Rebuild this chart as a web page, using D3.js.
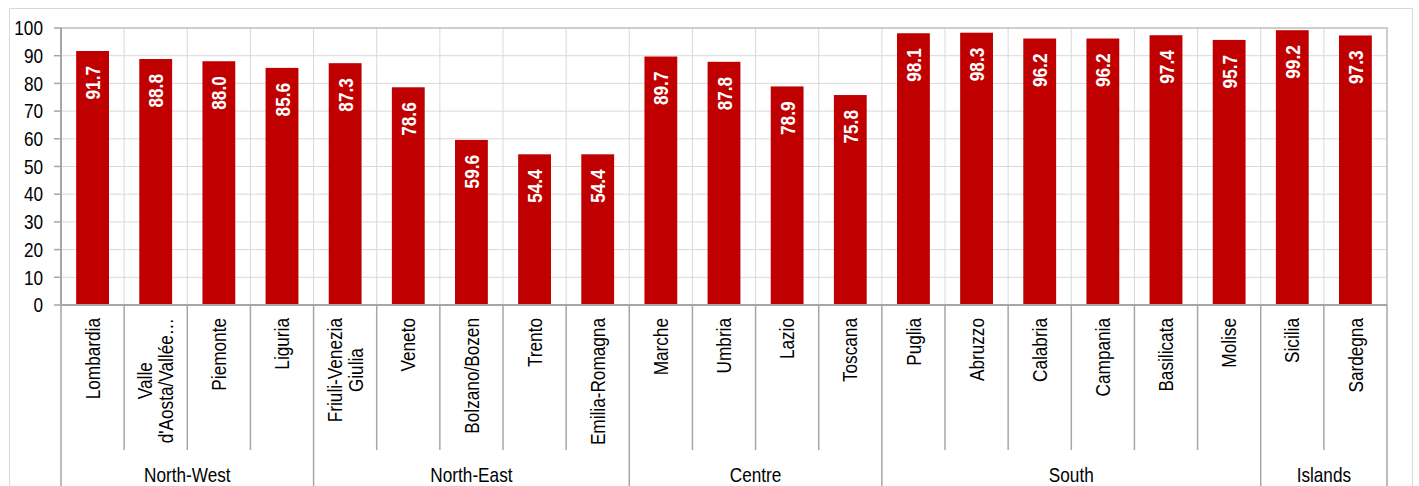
<!DOCTYPE html>
<html>
<head>
<meta charset="utf-8">
<script src="https://cdn.jsdelivr.net/npm/d3@7"></script>
<style>
  body { margin: 0; background: #fff; }
  text { font-family: "Liberation Sans", Arial, sans-serif; fill: #000; }
</style>
</head>
<body>
<script>
// regions, values and macro-area groups
var regions = ["Lombardia", "Valle d'Aosta/Vallée…", "Piemonte", "Liguria",
  "Friuli-Venezia Giulia", "Veneto", "Bolzano/Bozen", "Trento", "Emilia-Romagna",
  "Marche", "Umbria", "Lazio", "Toscana",
  "Puglia", "Abruzzo", "Calabria", "Campania", "Basilicata", "Molise",
  "Sicilia", "Sardegna"];
var regionLines = {
  "Valle d'Aosta/Vallée…": ["Valle", "d'Aosta/Vallée…"],
  "Friuli-Venezia Giulia": ["Friuli-Venezia", "Giulia"]
};
var values = [91.7, 88.8, 88.0, 85.6, 87.3, 78.6, 59.6, 54.4, 54.4,
  89.7, 87.8, 78.9, 75.8, 98.1, 98.3, 96.2, 96.2, 97.4, 95.7, 99.2, 97.3];
var groups = ["North-West", "North-East", "Centre", "South", "Islands"];
var groupSizes = [4, 5, 4, 6, 2];
var yTicks = [0, 10, 20, 30, 40, 50, 60, 70, 80, 90, 100];

var W = 1419, H = 486;
var mLeft = 61, mRight = 1387, mTop = 28, mBottom = 305;
var sx = 0.86; // narrow the font, the original is a condensed face

var svg = d3.select("body").append("svg")
    .attr("width", W)
    .attr("height", H);

// outer frame
svg.append("rect")
    .attr("x", 9.5).attr("y", 8.5)
    .attr("width", 1403).attr("height", 500)
    .style("fill", "none")
    .style("stroke", "#d9d9d9");

var x = d3.scaleBand()
    .domain(regions)
    .range([mLeft, mRight])
    .paddingInner(0).paddingOuter(0);

var y = d3.scaleLinear()
    .domain([0, 100])
    .range([mBottom, mTop]);

var step = x.step();
var barW = step * 0.52;

// horizontal gridlines
svg.append("g").selectAll("line")
    .data(yTicks.filter(function(d){ return d > 0 && d < 100; }))
    .enter().append("line")
    .attr("x1", mLeft).attr("x2", mRight)
    .attr("y1", function(d){ return y(d); })
    .attr("y2", function(d){ return y(d); })
    .style("stroke", "#d9d9d9")
    .style("stroke-width", 1);

// vertical gridlines at category boundaries
svg.append("g").selectAll("line")
    .data(regions.slice(1))
    .enter().append("line")
    .attr("x1", function(d){ return x(d); })
    .attr("x2", function(d){ return x(d); })
    .attr("y1", mTop).attr("y2", mBottom)
    .style("stroke", "#d9d9d9")
    .style("stroke-width", 1);

// plot border top / right
svg.append("path")
    .attr("d", "M" + mLeft + "," + y(100) + "H" + mRight + "V" + mBottom)
    .style("fill", "none")
    .style("stroke", "#bfbfbf")
    .style("stroke-width", 1.5);

// bars
svg.append("g").selectAll("rect")
    .data(values)
    .enter().append("rect")
    .attr("x", function(d, i){ return x(regions[i]) + (step - barW) / 2; })
    .attr("y", function(d){ return y(d); })
    .attr("width", barW)
    .attr("height", function(d){ return y(0) - y(d); })
    .style("fill", "#c00000");

// value labels inside the bars
svg.append("g").selectAll("text")
    .data(values)
    .enter().append("text")
    .attr("transform", function(d, i){
      return "translate(" + (x(regions[i]) + step / 2) + "," + (y(d) + 15) + ") rotate(-90) scale(0.82,1)";
    })
    .attr("dy", "0.36em")
    .style("text-anchor", "end")
    .style("font-size", "21px")
    .style("font-weight", "bold")
    .style("fill", "#fff")
    .text(function(d){ return d.toFixed(1); });

// y axis: ticks, line, labels
var yAxis = svg.append("g");
yAxis.selectAll("line.tick")
    .data(yTicks)
    .enter().append("line")
    .attr("class", "tick")
    .attr("x1", mLeft - 7).attr("x2", mLeft)
    .attr("y1", function(d){ return y(d); })
    .attr("y2", function(d){ return y(d); })
    .style("stroke", "#a6a6a6")
    .style("stroke-width", 1.5);
yAxis.append("line")
    .attr("x1", mLeft).attr("x2", mLeft)
    .attr("y1", mTop).attr("y2", mBottom)
    .style("stroke", "#a6a6a6")
    .style("stroke-width", 2);
yAxis.selectAll("text")
    .data(yTicks)
    .enter().append("text")
    .attr("transform", function(d){ return "translate(43," + y(d) + ") scale(" + sx + ",1)"; })
    .attr("dy", "0.36em")
    .style("text-anchor", "end")
    .style("font-size", "20px")
    .text(function(d){ return d; });

// x axis line
svg.append("line")
    .attr("x1", mLeft).attr("x2", mRight)
    .attr("y1", mBottom).attr("y2", mBottom)
    .style("stroke", "#a6a6a6")
    .style("stroke-width", 2);

// group boundaries
var groupStart = [];
var acc = 0;
groupSizes.forEach(function(n){ groupStart.push(acc); acc += n; });
var groupEdges = groupStart.concat([regions.length]);
function edgeX(i){ return i < regions.length ? x(regions[i]) : mRight; }

// category tick lines (inside groups)
svg.append("g").selectAll("line")
    .data(d3.range(1, regions.length).filter(function(i){ return groupStart.indexOf(i) < 0; }))
    .enter().append("line")
    .attr("x1", function(i){ return edgeX(i); })
    .attr("x2", function(i){ return edgeX(i); })
    .attr("y1", mBottom).attr("y2", 450)
    .style("stroke", "#a6a6a6")
    .style("stroke-width", 1.5);

// group separator lines
svg.append("g").selectAll("line")
    .data(groupEdges)
    .enter().append("line")
    .attr("x1", function(i){ return edgeX(i); })
    .attr("x2", function(i){ return edgeX(i); })
    .attr("y1", mBottom).attr("y2", H)
    .style("stroke", "#a6a6a6")
    .style("stroke-width", 1.5);

// category labels, rotated
var lh = 21;
var catLabels = svg.append("g").selectAll("text")
    .data(regions)
    .enter().append("text")
    .style("font-size", "20px");

catLabels.each(function(d){
  var lines = regionLines[d] || [d];
  var t = d3.select(this);
  lines.forEach(function(s, k){
    t.append("tspan")
      .attr("x", 0)
      .attr("y", (k - (lines.length - 1) / 2) * lh)
      .attr("dy", "0.36em")
      .text(s);
  });
  var maxLen = 0;
  t.selectAll("tspan").each(function(){ maxLen = Math.max(maxLen, this.getComputedTextLength()); });
  var cx = x(d) + step / 2;
  t.style("text-anchor", "middle")
    .attr("transform", "translate(" + cx + "," + (318 + maxLen * sx / 2) + ") rotate(-90) scale(" + sx + ",1)");
});

// group labels
svg.append("g").selectAll("text")
    .data(groups)
    .enter().append("text")
    .attr("transform", function(d, i){
      var cx = (edgeX(groupEdges[i]) + edgeX(groupEdges[i + 1])) / 2;
      return "translate(" + cx + ",482) scale(" + sx + ",1)";
    })
    .style("text-anchor", "middle")
    .style("font-size", "20px")
    .text(function(d){ return d; });
</script>
</body>
</html>
